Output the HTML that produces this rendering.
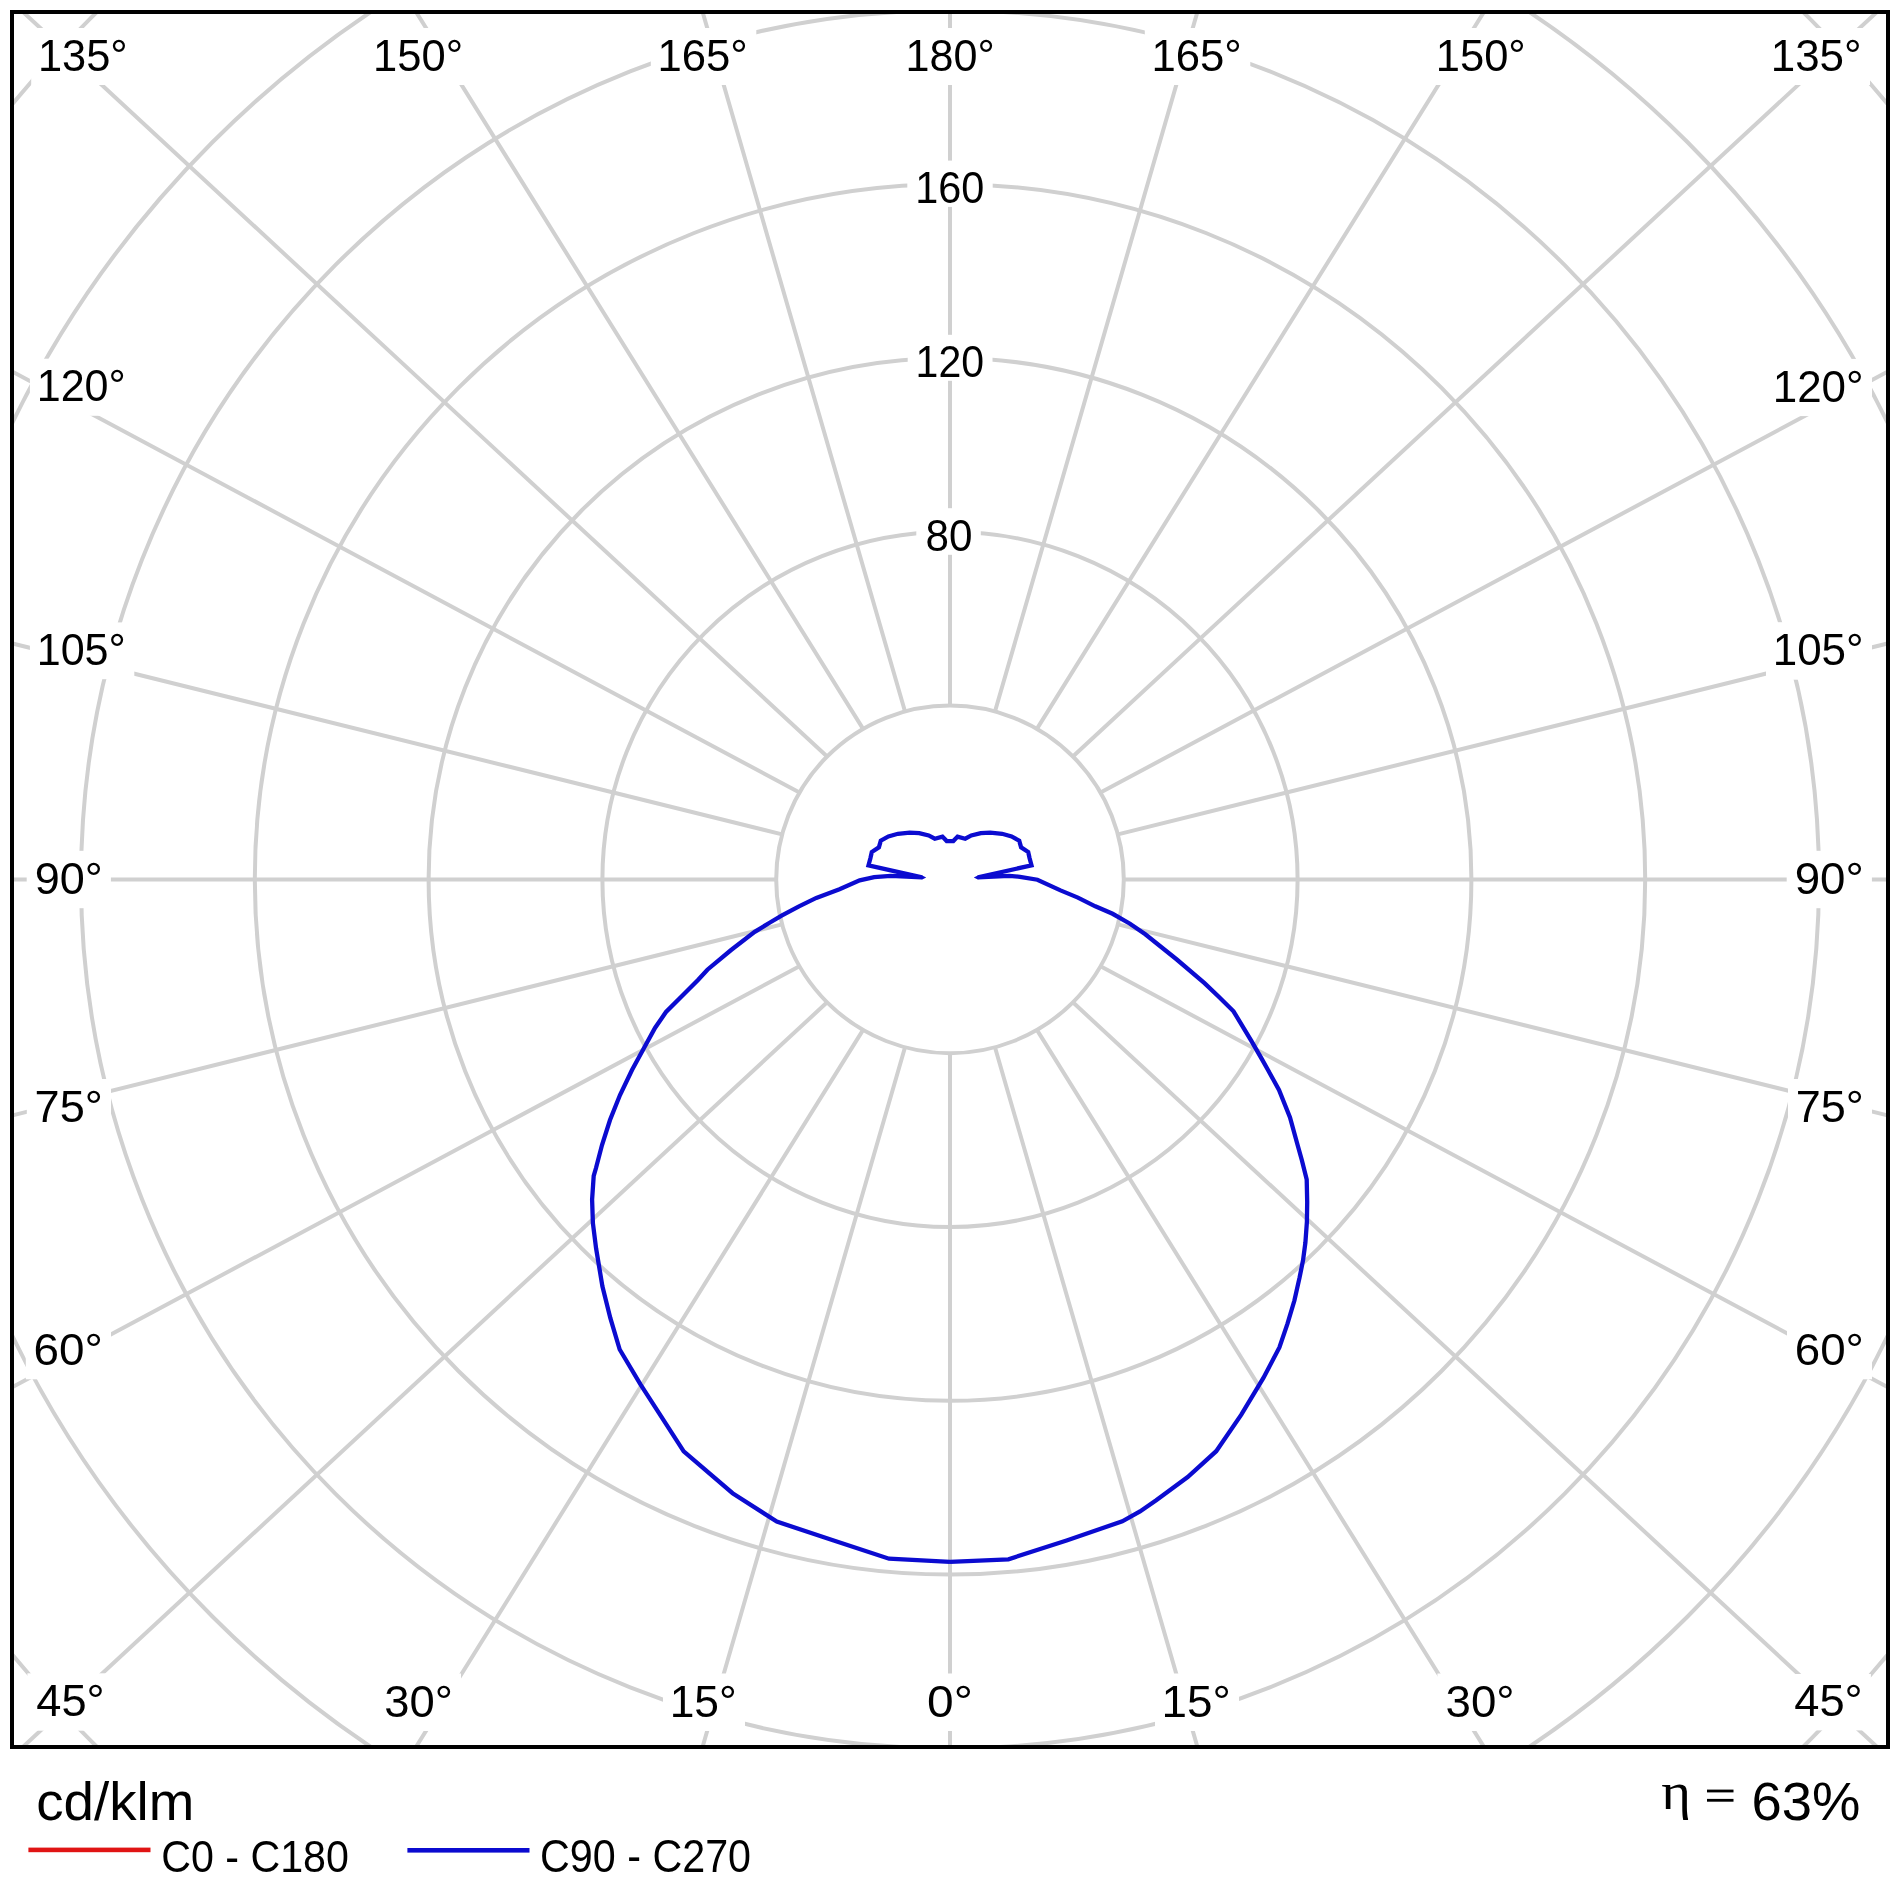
<!DOCTYPE html><html><head><meta charset="utf-8"><title>Polar diagram</title>
<style>html,body{margin:0;padding:0;background:#fff;width:1900px;height:1900px;overflow:hidden}svg{display:block;will-change:transform}text{font-family:"Liberation Sans",sans-serif;fill:#000}</style></head><body>
<svg width="1900" height="1900" viewBox="0 0 1900 1900">
<rect x="0" y="0" width="1900" height="1900" fill="#fff"/>
<defs><clipPath id="pc"><rect x="14" y="14" width="1872" height="1731"/></clipPath></defs>
<g clip-path="url(#pc)">
<g fill="none" stroke="#d0d0d0" stroke-width="4"><circle cx="950.0" cy="879.4" r="173.8"/><circle cx="950.0" cy="879.4" r="347.6"/><circle cx="950.0" cy="879.4" r="521.4"/><circle cx="950.0" cy="879.4" r="695.2"/><circle cx="950.0" cy="879.4" r="869.0"/><circle cx="950.0" cy="879.4" r="1042.8"/><circle cx="950.0" cy="879.4" r="1216.6"/></g>
<path fill="none" stroke="#d0d0d0" stroke-width="4" d="M950.00 1053.20L950.0 3053.2M994.98 1047.28L1550.9 2968.5M905.02 1047.28L349.1 2968.5M1036.90 1029.92L2095.1 2727.0M863.10 1029.92L-195.1 2727.0M1072.90 1002.30L2540.4 2361.1M827.10 1002.30L-640.4 2361.1M1100.52 966.30L2864.3 1909.2M799.48 966.30L-964.3 1909.2M1117.88 924.38L3059.0 1406.0M782.12 924.38L-1159.0 1406.0M1123.80 879.40L3123.8 879.4M776.20 879.40L-1223.8 879.4M1117.88 834.42L3059.0 352.8M782.12 834.42L-1159.0 352.8M1100.52 792.50L2864.3 -150.4M799.48 792.50L-964.3 -150.4M1072.90 756.50L2540.4 -602.3M827.10 756.50L-640.4 -602.3M1036.90 728.88L2095.1 -968.2M863.10 728.88L-195.1 -968.2M994.98 711.52L1550.9 -1209.7M905.02 711.52L349.1 -1209.7M950.00 705.60L950.0 -1294.4"/>
</g>
<g fill="#fff" clip-path="url(#pc)"><rect x="31.2" y="28.0" width="105.0" height="57.0"/><rect x="366.3" y="28.0" width="105.2" height="57.0"/><rect x="650.8" y="28.0" width="105.5" height="57.0"/><rect x="898.7" y="28.0" width="104.4" height="57.0"/><rect x="1144.8" y="28.0" width="105.5" height="57.0"/><rect x="1429.0" y="28.0" width="105.2" height="57.0"/><rect x="1764.0" y="28.0" width="106.0" height="57.0"/><rect x="29.9" y="358.7" width="104.4" height="57.1"/><rect x="29.9" y="622.4" width="104.4" height="56.8"/><rect x="26.7" y="850.8" width="84.2" height="57.4"/><rect x="26.8" y="1079.0" width="84.2" height="57.1"/><rect x="25.8" y="1322.2" width="85.2" height="57.1"/><rect x="27.4" y="1673.3" width="85.4" height="57.4"/><rect x="376.0" y="1673.5" width="85.0" height="57.5"/><rect x="663.0" y="1673.5" width="82.0" height="57.5"/><rect x="919.0" y="1673.5" width="62.0" height="57.5"/><rect x="1155.0" y="1673.5" width="84.0" height="57.5"/><rect x="1437.4" y="1673.5" width="85.4" height="57.5"/><rect x="1785.4" y="1674.0" width="85.5" height="56.4"/><rect x="1766.0" y="358.9" width="106.0" height="57.2"/><rect x="1766.0" y="622.2" width="106.0" height="57.5"/><rect x="1786.7" y="850.8" width="85.2" height="57.4"/><rect x="1788.0" y="1079.0" width="84.0" height="57.1"/><rect x="1787.0" y="1322.2" width="85.0" height="57.1"/><rect x="907.3" y="160.6" width="85.4" height="46.3"/><rect x="907.7" y="334.8" width="84.8" height="46.0"/><rect x="916.3" y="508.2" width="64.5" height="46.6"/></g>
<g><text transform="translate(37.94 70.56) scale(0.9785 1)" font-size="44.37">135°</text><text transform="translate(373.04 70.56) scale(0.9808 1)" font-size="44.37">150°</text><text transform="translate(657.52 70.56) scale(0.9843 1)" font-size="44.37">165°</text><text transform="translate(905.47 70.56) scale(0.9715 1)" font-size="44.37">180°</text><text transform="translate(1151.52 70.56) scale(0.9843 1)" font-size="44.37">165°</text><text transform="translate(1435.74 70.56) scale(0.9808 1)" font-size="44.37">150°</text><text transform="translate(1770.71 70.56) scale(0.9901 1)" font-size="44.37">135°</text><text transform="translate(36.67 401.35) scale(0.9684 1)" font-size="44.51">120°</text><text transform="translate(36.67 664.76) scale(0.9777 1)" font-size="44.08">105°</text><text transform="translate(34.68 893.75) scale(1.0012 1)" font-size="44.93">90°</text><text transform="translate(34.54 1121.65) scale(1.0143 1)" font-size="44.51">75°</text><text transform="translate(33.51 1364.85) scale(1.0303 1)" font-size="44.51">60°</text><text transform="translate(36.27 1716.25) scale(1.0059 1)" font-size="44.93">45°</text><text transform="translate(384.18 1716.55) scale(1.0071 1)" font-size="45.07">30°</text><text transform="translate(669.67 1716.55) scale(0.9843 1)" font-size="45.07">15°</text><text transform="translate(927.08 1716.55) scale(1.0640 1)" font-size="45.07">0°</text><text transform="translate(1161.56 1716.55) scale(1.0166 1)" font-size="45.07">15°</text><text transform="translate(1445.57 1716.55) scale(1.0134 1)" font-size="45.07">30°</text><text transform="translate(1794.27 1715.96) scale(1.0400 1)" font-size="43.52">45°</text><text transform="translate(1772.71 401.65) scale(0.9839 1)" font-size="44.65">120°</text><text transform="translate(1772.71 665.25) scale(0.9746 1)" font-size="45.07">105°</text><text transform="translate(1794.64 893.75) scale(1.0170 1)" font-size="44.93">90°</text><text transform="translate(1795.75 1121.65) scale(1.0111 1)" font-size="44.51">75°</text><text transform="translate(1794.71 1364.85) scale(1.0271 1)" font-size="44.51">60°</text><text transform="translate(915.19 203.45) scale(0.9305 1)" font-size="44.51">160</text><text transform="translate(915.62 377.36) scale(0.9307 1)" font-size="44.08">120</text><text transform="translate(925.40 551.35) scale(0.9400 1)" font-size="44.93">80</text></g>
<path fill="#0b0bd0" d="M921.8 875.2L926.2 877.5L921.8 879.7ZM978.2 875.2L973.8 877.5L978.2 879.7Z"/>
<polyline fill="none" stroke="#0b0bd0" stroke-width="4.3" stroke-linejoin="miter" stroke-miterlimit="4" points="950.0,1561.8 1008.4,1559.3 1066.6,1540.5 1122.3,1521.3 1140.0,1511.5 1156.2,1500.2 1187.7,1477.0 1216.2,1451.2 1241.3,1414.7 1263.4,1377.9 1279.4,1347.5 1287.5,1323.7 1294.4,1300.5 1299.6,1277.4 1303.1,1260.0 1305.4,1242.6 1306.9,1221.8 1307.2,1202.1 1306.7,1179.5 1301.8,1160.0 1297.6,1145.0 1290.0,1117.4 1279.0,1090.0 1268.0,1070.0 1261.6,1058.6 1251.2,1040.6 1233.5,1011.3 1218.0,996.0 1204.5,983.2 1176.8,959.5 1145.3,934.2 1130.0,923.7 1112.6,913.8 1095.3,906.3 1077.9,897.6 1060.5,890.4 1037.4,879.7 1020.0,876.8 1009.2,875.9 978.0,877.4 1031.5,865.3 1029.6,858.2 1028.2,852.0 1021.1,847.3 1019.2,840.6 1011.6,836.4 1002.1,833.8 990.3,832.6 980.8,833.1 971.3,835.4 965.2,838.7 957.6,836.6 953.3,841.1 946.7,841.1 942.4,836.6 934.8,838.7 928.7,835.4 919.2,833.1 909.7,832.6 897.9,833.8 888.4,836.4 880.8,840.6 878.9,847.3 871.8,852.0 870.4,858.2 868.5,865.3 922.0,877.4 890.8,875.9 874.2,877.1 859.7,880.3 839.5,889.2 816.3,897.9 799.0,906.3 781.6,915.6 770.0,922.5 754.7,931.8 731.1,950.0 707.4,969.7 698.0,980.0 682.0,996.0 666.0,1012.0 655.0,1028.0 644.0,1048.0 632.0,1070.0 620.0,1095.0 610.0,1120.0 602.0,1145.0 596.0,1168.0 593.7,1175.8 592.1,1199.5 592.9,1223.2 596.1,1248.4 602.4,1286.3 610.3,1317.9 619.7,1349.5 640.3,1384.2 660.8,1415.8 683.7,1451.3 732.6,1493.2 776.8,1521.6 833.7,1540.5 889.0,1558.7 950.0,1561.8"/>
<rect x="12" y="12" width="1876" height="1735" fill="none" stroke="#000" stroke-width="4"/>
<text transform="translate(36.24 1819.66) scale(1.0155 1)" font-size="53.88">cd/klm</text>
<rect x="28.4" y="1847.6" width="122.1" height="4.6" fill="#e01414"/>
<text transform="translate(161.14 1871.75) scale(0.9259 1)" font-size="44.51">C0 - C180</text>
<rect x="407.4" y="1848.0" width="122.1" height="4.6" fill="#0b0bd0"/>
<text transform="translate(540.04 1872.15) scale(0.9101 1)" font-size="45.35">C90 - C270</text>
<text transform="translate(1661.25 1809.07) scale(1.0934 1)" font-size="52.06" style="font-family:&quot;Liberation Serif&quot;,serif">η</text>
<rect x="1707" y="1789.6" width="26.5" height="2.8" fill="#000"/><rect x="1707" y="1798.9" width="26.5" height="2.8" fill="#000"/>
<text transform="translate(1751.58 1820.06) scale(1.0035 1)" font-size="54.23">63%</text>
</svg></body></html>
